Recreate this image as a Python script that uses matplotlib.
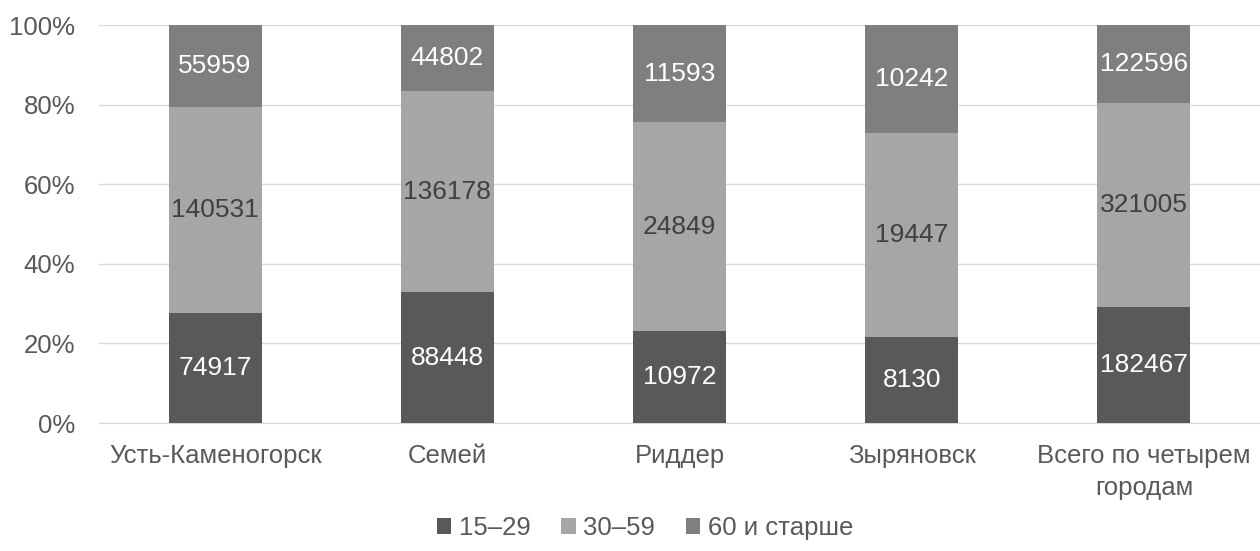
import matplotlib.pyplot as plt
import numpy as np

plt.rcParams['font.family'] = ['Liberation Sans', 'DejaVu Sans']

cities = ['Усть-Каменогорск', 'Семей', 'Риддер', 'Зыряновск', 'Всего по четырем\nгородам']
age_groups = ['15–29', '30–59', '60 и старше']
young = [74917, 88448, 10972, 8130, 182467]
middle = [140531, 136178, 24849, 19447, 321005]
old = [55959, 44802, 11593, 10242, 122596]

colors = ['#595959', '#a6a6a6', '#7f7f7f']
text_colors = ['white', '#404040', 'white']
grey = '#595959'

series = np.array([young, middle, old], dtype=float)
totals = series.sum(axis=0)
shares = series / totals * 100

fig = plt.figure(figsize=(12.6, 5.51), dpi=100)
ax = fig.add_axes([0.0786, 0.2323, 0.9214, 0.7223])

x = np.arange(len(cities))
bottom = np.zeros(len(cities))
for i in range(3):
    ax.bar(x, shares[i], width=0.4, bottom=bottom, color=colors[i],
           label=age_groups[i], zorder=3)
    for j in range(len(cities)):
        ax.text(x[j], bottom[j] + shares[i][j] / 2, str(int(series[i][j])),
                ha='center', va='center', fontsize=19, color=text_colors[i], zorder=4)
    bottom += shares[i]

ax.set_xlim(-0.5, len(cities) - 0.5)
ax.set_ylim(0, 100)
ax.set_yticks(np.arange(0, 101, 20))
ax.set_yticklabels([f'{v}%' for v in range(0, 101, 20)])
ax.set_xticks(x)
ax.set_xticklabels(cities, linespacing=1.45)
ax.tick_params(axis='both', length=0, labelsize=18.5, colors=grey)
ax.tick_params(axis='y', pad=17)
ax.tick_params(axis='x', pad=15)
ax.yaxis.grid(True, color='#d9d9d9', linewidth=1, zorder=0)
for s in ['top', 'right', 'left']:
    ax.spines[s].set_visible(False)
ax.spines['bottom'].set_color('#d9d9d9')

fig.legend(loc='lower center', bbox_to_anchor=(0.512, -0.022), ncol=3, frameon=False,
           fontsize=18.5, handlelength=0.55, handleheight=0.55, handletextpad=0.3,
           columnspacing=1.2, labelcolor=grey)

fig.savefig('out.png', dpi=100)
